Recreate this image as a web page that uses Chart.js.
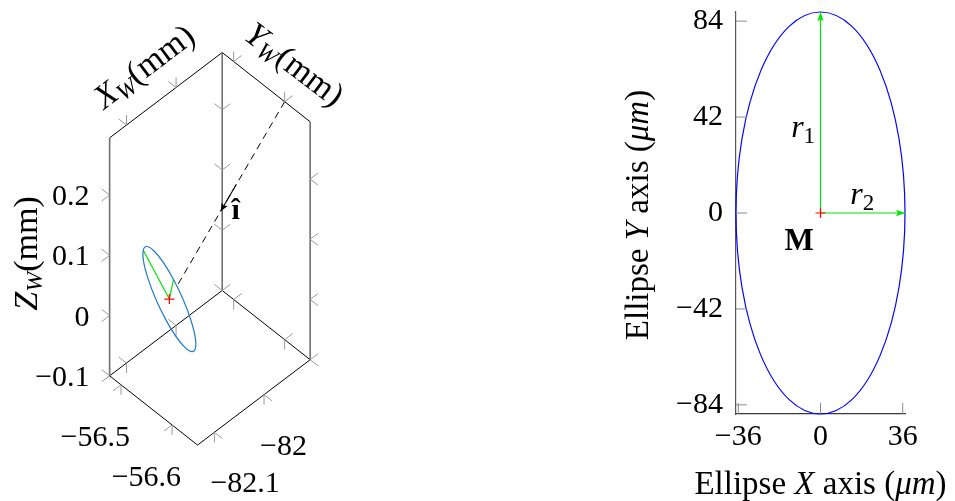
<!DOCTYPE html>
<html>
<head>
<meta charset="utf-8">
<title>Focal spot ellipse</title>
<script src="https://cdn.jsdelivr.net/npm/chart.js@4.4.1/dist/chart.umd.min.js"></script>
<style>
  html, body { margin: 0; padding: 0; background: #ffffff; }
  #figure { position: relative; width: 955px; height: 501px; overflow: hidden; }
  #scene { position: absolute; left: 0; top: 0; width: 370px; height: 501px; }
  #plane { position: absolute; left: 600px; top: 0; width: 355px; height: 501px; }
</style>
</head>
<body>
<div id="figure">
  <canvas id="scene" width="370" height="501"></canvas>
  <canvas id="plane" width="355" height="501"></canvas>
</div>
<script>
// World frame (mm): ranges of the view box, from the near-left corner outwards
const xRange = [-56.4776, -56.65];
const yRange = [-82.134, -81.907];
const zRange = [-0.1, 0.295];
const xTicks = [-56.5, -56.6];
const yTicks = [-82.1, -82];
const zTicks = [-0.1, 0, 0.1, 0.2];
const xTickLabels = ['−56.5', '−56.6'];
const yTickLabels = ['−82.1', '−82'];
const zTickLabels = ['−0.1', '0', '0.1', '0.2'];

// Focal spot: centre M and its two semi-axis vectors (mm)
const spotCentre = [-56.55, -82.088, 0.047];
const spotR1 = [0.026, -0.0259, 0.0798];
const spotR2 = [0.0186, 0.0275, 0.0029];
// Incoming beam î, starting on the top edge of the box
const beamStart = [-56.6, -81.907, 0.295];

// Spot ellipse in its own plane (µm)
const r1 = 88;
const r2 = 37;
const planeXTicks = [-36, 0, 36];
const planeYTicks = [-84, -42, 0, 42, 84];

// ---------------------------------------------------------------------------
const SERIF = "'Liberation Serif', 'Times New Roman', serif";
const BLUE_SPOT = '#1f7ac4';
const GREEN = '#00e600';
const RED = '#ff0000';

// Parallel projection of the world box onto the scene canvas units
const view = { ox: 107, oy: 379, e: [[91, 71], [116.5, -87.5], [0, -244]] };
const ranges = [xRange, yRange, zRange];
function project(p) {
  let x = view.ox, y = view.oy;
  for (let i = 0; i < 3; i++) {
    const f = (p[i] - ranges[i][0]) / (ranges[i][1] - ranges[i][0]);
    x += f * view.e[i][0];
    y += f * view.e[i][1];
  }
  return { x, y };
}
const add = (p, q) => p.map((v, i) => v + q[i]);
const lerp = (p, q, t) => p.map((v, i) => v + (q[i] - v) * t);

function richText(ctx, parts, cx, by, angle, align) {
  ctx.save();
  ctx.translate(cx, by);
  ctx.rotate(angle || 0);
  ctx.textBaseline = 'alphabetic';
  ctx.textAlign = 'left';
  ctx.fillStyle = '#000';
  let w = 0;
  const ws = parts.map(p => { ctx.font = p[1]; const m = ctx.measureText(p[0]).width; w += m; return m; });
  let x = align === 'left' ? 0 : -w / 2;
  parts.forEach((p, i) => { ctx.font = p[1]; ctx.fillText(p[0], x, p[2] || 0); x += ws[i]; });
  ctx.restore();
}

function arrowHead(ctx, from, to, len, half, color) {
  const dx = to.x - from.x, dy = to.y - from.y, L = Math.hypot(dx, dy);
  const ux = dx / L, uy = dy / L;
  ctx.save();
  ctx.beginPath();
  ctx.moveTo(to.x, to.y);
  ctx.lineTo(to.x - ux * len - uy * half, to.y - uy * len + ux * half);
  ctx.lineTo(to.x - ux * len * 0.8, to.y - uy * len * 0.8);
  ctx.lineTo(to.x - ux * len + uy * half, to.y - uy * len - ux * half);
  ctx.closePath();
  ctx.fillStyle = color;
  ctx.fill();
  ctx.restore();
}

const lineSet = (pts, color, width, dash) => ({
  data: pts, showLine: true, borderColor: color, borderWidth: width,
  borderDash: dash || [], pointRadius: 0, fill: false, tension: 0, clip: false
});

// ---------------------------------------------------------------- 3-D scene
const [x0, x1] = xRange, [y0, y1] = yRange, [z0, z1] = zRange;
const verticalEdges = [
  [[x0, y0, z0], [x0, y0, z1]],
  [[x0, y1, z0], [x0, y1, z1]],
  [[x1, y1, z0], [x1, y1, z1]]
];
const flatEdges = [
  [[x0, y0, z1], [x0, y1, z1]],
  [[x0, y1, z1], [x1, y1, z1]],
  [[x0, y0, z0], [x1, y0, z0]],
  [[x1, y0, z0], [x1, y1, z0]],
  [[x0, y0, z0], [x0, y1, z0]],
  [[x0, y1, z0], [x1, y1, z0]]
];
const allEdges = verticalEdges.concat(flatEdges);
const tickSets = [xTicks, yTicks, zTicks];

const beamEnd = lerp(beamStart, spotCentre, 0.93);
const arrowFrom = lerp(beamStart, spotCentre, 0.42);
const arrowTo = lerp(beamStart, spotCentre, 0.555);

const sceneSets = [
  { data: [project(spotCentre)], pointStyle: 'cross', pointRadius: 5, borderColor: RED, borderWidth: 1.2, showLine: false, clip: false },
  lineSet([project(spotCentre), project(add(spotCentre, spotR1))], GREEN, 1.2),
  lineSet([project(spotCentre), project(add(spotCentre, spotR2))], GREEN, 1.2),
  lineSet([project(arrowFrom), project(arrowTo)], '#000', 1.1),
  lineSet([project(beamStart), project(beamEnd)], '#000', 1, [7, 5])
];
verticalEdges.forEach(e => sceneSets.push(lineSet([project(e[0]), project(e[1])], '#707070', 1.6)));
flatEdges.forEach(e => sceneSets.push(lineSet([project(e[0]), project(e[1])], '#000', 1)));

const scenePlugin = {
  id: 'scene3d',
  afterDatasetsDraw(chart) {
    const ctx = chart.ctx;
    const sx = chart.scales.x, sy = chart.scales.y;
    const px = p => { const q = project(p); return { x: sx.getPixelForValue(q.x), y: sy.getPixelForValue(q.y) }; };

    // tick marks on every drawn edge, pointing out of the box
    ctx.save();
    ctx.strokeStyle = '#9a9a9a';
    ctx.lineWidth = 1;
    allEdges.forEach(([p, q]) => {
      const k = [0, 1, 2].find(i => p[i] !== q[i]);
      tickSets[k].forEach(v => {
        const pt = p.slice(); pt[k] = v;
        const o = px(pt);
        [0, 1, 2].filter(j => j !== k).forEach(j => {
          const s = p[j] === ranges[j][0] ? -1 : 1;
          const ex = view.e[j][0], ey = view.e[j][1], L = Math.hypot(ex, ey);
          ctx.beginPath();
          ctx.moveTo(o.x, o.y);
          ctx.lineTo(o.x + s * ex / L * 10, o.y + s * ey / L * 10);
          ctx.stroke();
        });
      });
    });
    ctx.restore();

    // projected spot ellipse
    const c = px(spotCentre), a = px(add(spotCentre, spotR1)), b = px(add(spotCentre, spotR2));
    ctx.save();
    ctx.beginPath();
    ctx.transform(a.x - c.x, a.y - c.y, b.x - c.x, b.y - c.y, c.x, c.y);
    ctx.arc(0, 0, 1, 0, Math.PI * 2);
    ctx.restore();
    ctx.save();
    ctx.strokeStyle = BLUE_SPOT;
    ctx.lineWidth = 1.2;
    ctx.stroke();
    ctx.restore();

    // beam arrow head and its label
    arrowHead(ctx, px(arrowFrom), px(arrowTo), 8, 3.5, '#000');
    const t = px(arrowTo);
    richText(ctx, [['î', 'bold 30px ' + SERIF]], t.x + 15, t.y + 8, 0);

    // tick labels
    ctx.save();
    ctx.fillStyle = '#000';
    ctx.font = '30px ' + SERIF;
    ctx.textBaseline = 'alphabetic';
    ctx.textAlign = 'right';
    zTicks.forEach((v, i) => { const o = px([x0, y0, v]); ctx.fillText(zTickLabels[i], o.x - 20, o.y + 10); });
    xTicks.forEach((v, i) => { const o = px([v, y0, z0]); ctx.fillText(xTickLabels[i], o.x + 9, o.y + 61); });
    ctx.textAlign = 'left';
    yTicks.forEach((v, i) => { const o = px([x1, v, z0]); ctx.fillText(yTickLabels[i], o.x - 4, o.y + 60); });
    ctx.restore();

    // axis titles
    const it = 'italic 34px ' + SERIF, sub = 'italic 24px ' + SERIF, up = '34px ' + SERIF;
    richText(ctx, [['X', it], ['W', sub, 5], ['(mm)', up]], 150.5, 75, -36.9 * Math.PI / 180);
    richText(ctx, [['Y', it], ['W', sub, 5], ['(mm)', up]], 288, 73, 37.3 * Math.PI / 180);
    richText(ctx, [['Z', it], ['W', sub, 5], ['(mm)', up]], 37, 253.5, -Math.PI / 2);
  }
};

new Chart(document.getElementById('scene'), {
  type: 'scatter',
  data: { datasets: sceneSets },
  options: {
    responsive: false, animation: false, events: [],
    layout: { padding: 0 },
    plugins: { legend: { display: false }, tooltip: { enabled: false } },
    scales: {
      x: { type: 'linear', display: false, min: 0, max: 370 },
      y: { type: 'linear', display: false, min: 0, max: 501, reverse: true }
    }
  },
  plugins: [scenePlugin]
});

// ---------------------------------------------------------- ellipse plane
const fmt = v => (v < 0 ? '−' + Math.abs(v) : String(v));

const planePlugin = {
  id: 'plane2d',
  beforeDatasetsDraw(chart) {
    const ctx = chart.ctx, sx = chart.scales.x, sy = chart.scales.y;
    ctx.save();
    ctx.beginPath();
    ctx.ellipse(sx.getPixelForValue(0), sy.getPixelForValue(0),
      sx.getPixelForValue(r2) - sx.getPixelForValue(0),
      sy.getPixelForValue(0) - sy.getPixelForValue(r1), 0, 0, Math.PI * 2);
    ctx.strokeStyle = '#0000ff';
    ctx.lineWidth = 1.2;
    ctx.stroke();
    ctx.restore();
  },
  afterDatasetsDraw(chart) {
    const ctx = chart.ctx, sx = chart.scales.x, sy = chart.scales.y, area = chart.chartArea;
    const P = (x, y) => ({ x: sx.getPixelForValue(x), y: sy.getPixelForValue(y) });

    arrowHead(ctx, P(0, 0), P(0, r1), 9, 3.2, GREEN);
    arrowHead(ctx, P(0, 0), P(r2, 0), 9, 3.2, GREEN);

    // inward tick marks
    ctx.save();
    ctx.strokeStyle = '#8a8a8a';
    ctx.lineWidth = 1;
    planeYTicks.forEach(v => { const y = sy.getPixelForValue(v); ctx.beginPath(); ctx.moveTo(area.left, y); ctx.lineTo(area.left + 11, y); ctx.stroke(); });
    planeXTicks.forEach(v => { const x = sx.getPixelForValue(v); ctx.beginPath(); ctx.moveTo(x, area.bottom); ctx.lineTo(x, area.bottom - 11); ctx.stroke(); });
    ctx.restore();

    const it = 'italic 32px ' + SERIF, sub = '23px ' + SERIF, up = '33px ' + SERIF, upIt = 'italic 33px ' + SERIF;
    let q = P(-7.6, 33.3);
    richText(ctx, [['r', it], ['1', sub, 6]], q.x, q.y, 0);
    q = P(18.3, 3.9);
    richText(ctx, [['r', it], ['2', sub, 6]], q.x, q.y, 0);
    q = P(-9.4, -16.2);
    richText(ctx, [['M', 'bold 31px ' + SERIF]], q.x, q.y, 0);

    // axis titles
    const xt = [['Ellipse ', up], ['X', upIt], [' axis (', up], ['μm', upIt], [')', up]];
    const yt = [['Ellipse ', up], ['Y', upIt], [' axis (', up], ['μm', upIt], [')', up]];
    richText(ctx, xt, (area.left + area.right) / 2, 494, 0);
    richText(ctx, yt, 48, 215, -Math.PI / 2);
  }
};

const axisFont = { family: SERIF, size: 30 };
new Chart(document.getElementById('plane'), {
  type: 'scatter',
  data: {
    datasets: [
      { data: [{ x: 0, y: 0 }], pointStyle: 'cross', pointRadius: 5, borderColor: RED, borderWidth: 1.2, showLine: false, clip: false },
      lineSet([{ x: 0, y: 0 }, { x: 0, y: r1 }], GREEN, 1.2),
      lineSet([{ x: 0, y: 0 }, { x: r2, y: 0 }], GREEN, 1.2)
    ]
  },
  options: {
    responsive: false, animation: false, events: [],
    layout: { padding: { top: 12, right: 50, left: 0, bottom: 0 } },
    plugins: { legend: { display: false }, tooltip: { enabled: false } },
    scales: {
      x: {
        type: 'linear', min: -r2, max: r2,
        grid: { display: false, drawTicks: false },
        border: { display: true, color: '#3a3a3a', width: 1.2 },
        ticks: { font: axisFont, color: '#000', padding: 5, autoSkip: false, maxRotation: 0, callback: fmt },
        afterBuildTicks: s => { s.ticks = planeXTicks.map(v => ({ value: v })); },
        afterFit: s => { s.height = 87; s.paddingLeft = 0; s.paddingRight = 0; }
      },
      y: {
        type: 'linear', min: -r1, max: r1,
        grid: { display: false, drawTicks: false },
        border: { display: true, color: '#555555', width: 1.2 },
        ticks: { font: axisFont, color: '#000', padding: 13, autoSkip: false, callback: fmt },
        afterBuildTicks: s => { s.ticks = planeYTicks.map(v => ({ value: v })); },
        afterFit: s => { s.width = 136; s.paddingTop = 0; s.paddingBottom = 0; }
      }
    }
  },
  plugins: [planePlugin]
});
</script>
</body>
</html>
